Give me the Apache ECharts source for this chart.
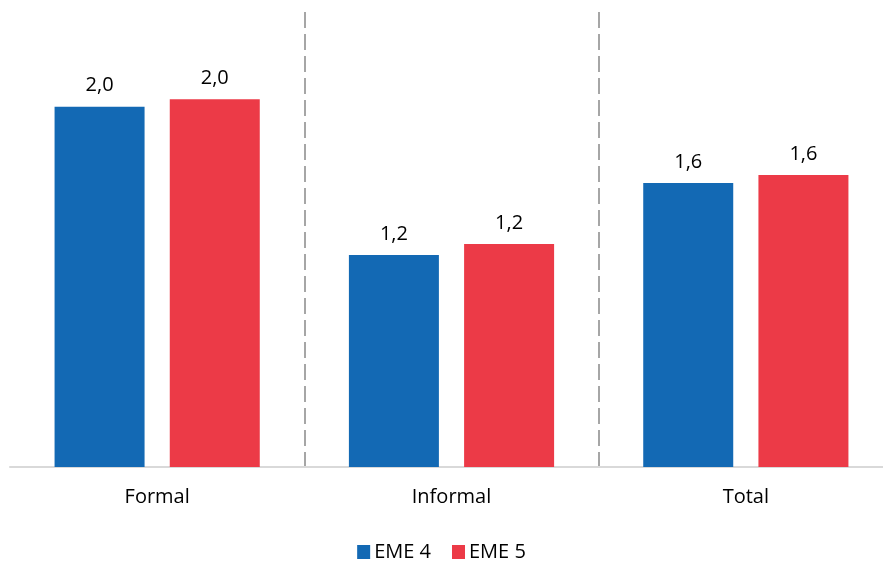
<!DOCTYPE html>
<html><head><meta charset="utf-8">
<script src="https://cdn.jsdelivr.net/npm/echarts@6/dist/echarts.min.js"></script>
<style>html,body{margin:0;padding:0;background:#fff}#c{width:883px;height:561px}</style>
</head><body><div id="c"></div>
<script>
const categories = ['Formal', 'Informal', 'Total'];
const eme4 = [1.98, 1.165, 1.56];
const eme5 = [2.02, 1.225, 1.605];
const seriesNames = ['EME 4', 'EME 5'];

const chart = echarts.init(document.getElementById('c'));
const fmt = p => p.value.toFixed(1).replace('.', ',');
const font = '"Open Sans", "Liberation Sans", sans-serif';
chart.setOption({
  animation: false,
  grid: { left: 10, width: 883, top: 12, bottom: 94, containLabel: false, outerBoundsMode: 'none' },
  legend: {
    bottom: -6, left: 'center', itemWidth: 13, itemHeight: 14, itemGap: 21,
    icon: 'rect',
    textStyle: { fontSize: 20, color: '#000', fontFamily: font, padding: [0, 0, 0, -1] }
  },
  xAxis: {
    type: 'category', data: categories,
    axisLine: { lineStyle: { color: '#d9d9d9', width: 2 } },
    axisTick: { show: false },
    axisLabel: { fontSize: 20, color: '#000', margin: 20, fontFamily: font },
    splitLine: { show: true, showMinLine: false, showMaxLine: false, interval: 0,
      lineStyle: { color: '#a6a6a6', type: [16, 6], width: 2 } }
  },
  yAxis: { type: 'value', min: 0, max: 2.5, show: false, splitLine: { show: false } },
  series: [
    { name: seriesNames[0], type: 'bar', data: eme4, barWidth: 90, barGap: '28%',
      itemStyle: { color: '#1369B4' },
      label: { show: true, position: 'top', distance: 11, formatter: fmt, fontSize: 20, color: '#000', fontFamily: font } },
    { name: seriesNames[1], type: 'bar', data: eme5, barWidth: 90,
      itemStyle: { color: '#EC3A47' },
      label: { show: true, position: 'top', distance: 11, formatter: fmt, fontSize: 20, color: '#000', fontFamily: font } }
  ]
});
</script></body></html>
